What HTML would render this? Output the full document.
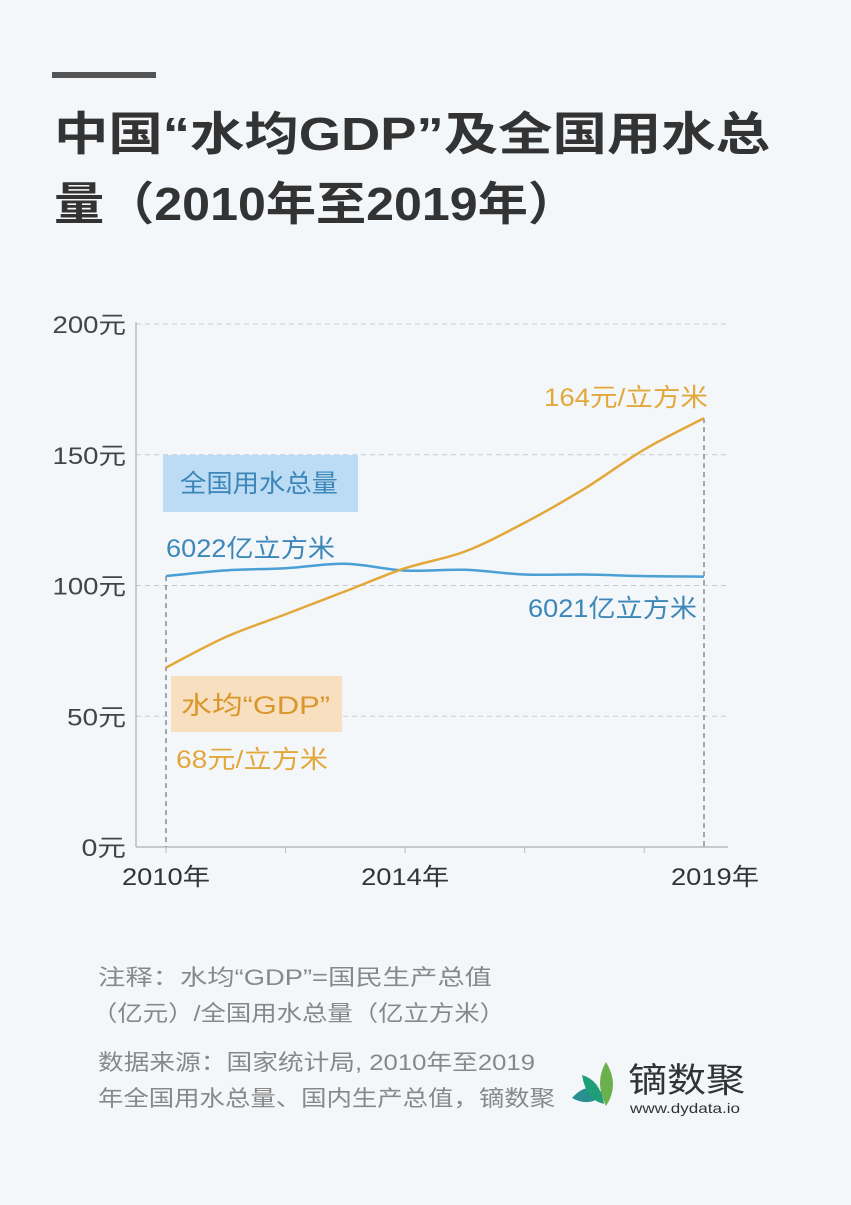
<!DOCTYPE html>
<html><head><meta charset="utf-8">
<style>
body{margin:0;background:#f4f7fa;width:851px;height:1200px;overflow:hidden;font-family:"Liberation Sans","Noto Sans CJK SC",sans-serif}
svg text{font-family:"Liberation Sans","Noto Sans CJK SC",sans-serif}
</style></head><body>
<svg width="851" height="1200">
<rect width="851" height="1200" fill="#f4f7fa"/>
<rect x="52" y="72" width="104" height="6" fill="#555"/>
<text x="54" y="150" font-size="46" font-weight="bold" fill="#333" textLength="716" lengthAdjust="spacingAndGlyphs">中国“水均GDP”及全国用水总</text>
<text x="54" y="220" font-size="46" font-weight="bold" fill="#333" textLength="524" lengthAdjust="spacingAndGlyphs">量（2010年至2019年）</text>
<g id="plot"></g>
<text x="98" y="985" font-size="22" fill="#888" textLength="394" lengthAdjust="spacingAndGlyphs">注释：水均“GDP”=国民生产总值</text>
<text x="92" y="1021" font-size="22" fill="#888" textLength="413" lengthAdjust="spacingAndGlyphs">（亿元）/全国用水总量（亿立方米）</text>
<text x="98" y="1070" font-size="22" fill="#888" textLength="437" lengthAdjust="spacingAndGlyphs">数据来源：国家统计局, 2010年至2019</text>
<text x="98" y="1106" font-size="22" fill="#888" textLength="457" lengthAdjust="spacingAndGlyphs">年全国用水总量、国内生产总值，镝数聚</text>
<g>
<path d="M572 1098 Q588 1080 604 1094 Q590 1108 572 1098Z" fill="#2a8f8f"/>
<path d="M582 1075 Q600 1080 604 1104 Q586 1100 582 1075Z" fill="#1f9e78"/>
<path d="M606 1062 Q620 1085 606 1106 Q594 1082 606 1062Z" fill="#6ab04c"/>
<text x="628" y="1092" font-size="34" fill="#333" textLength="117" lengthAdjust="spacingAndGlyphs">镝数聚</text>
<text x="630" y="1113" font-size="14" fill="#333" textLength="110" lengthAdjust="spacingAndGlyphs">www.dydata.io</text>
</g>
</svg>
<script>
const years=[2010,2011,2012,2013,2014,2015,2016,2017,2018,2019];
const waterUse=[103.6,105.8,106.6,108.3,105.7,106,104.2,104.2,103.6,103.4];
const waterGdp=[68.6,80.3,89,97.8,106.6,113,124,137,152,164];
const yTicks=[0,50,100,150,200];
const xLabels=[2010,2014,2019];
const NS="http://www.w3.org/2000/svg";
const g=document.getElementById('plot');
const x=v=>166+(v-2010)*(704-166)/9;
const y=v=>847-v*(847-324)/200;
function mk(t,a,txt){const e=document.createElementNS(NS,t);for(const k in a)e.setAttribute(k,a[k]);if(txt!=null)e.textContent=txt;g.appendChild(e);return e;}
yTicks.forEach(t=>{
 if(t>0){const l=mk('line',{x1:136,x2:728,y1:y(t),y2:y(t),stroke:'#c8ccd2','stroke-dasharray':'5 4'});
 
 }
 const s=t+'元';
 const tx=mk('text',{x:126,y:y(t)+9,'font-size':24,fill:'#444','text-anchor':'end',textLength:(s.length-1)*14.5+30,lengthAdjust:'spacingAndGlyphs'},s);
 
 
});
const ya=mk('line',{x1:136,x2:136,y1:322,y2:847,stroke:'#bbb','stroke-width':1.5});


const xa=mk('line',{x1:136,x2:728,y1:847,y2:847,stroke:'#bbb','stroke-width':1.5});


[2010,2012,2014,2016,2018].forEach(v=>{const t=mk('line',{x1:x(v),x2:x(v),y1:847,y2:853,stroke:'#bbb'});
 
 });
xLabels.forEach(v=>{const t=mk('text',{x:x(v)+(v==2019?11:0),y:885,'font-size':24,fill:'#333','text-anchor':'middle',textLength:88,lengthAdjust:'spacingAndGlyphs'},v+'年');
 
 });
[[2010,waterUse[0]],[2019,waterGdp[9]]].forEach(p=>{const l=mk('line',{x1:x(p[0]),x2:x(p[0]),y1:y(p[1]),y2:847,stroke:'#555','stroke-dasharray':'5 4'});
 
 });
function path(arr){const P=arr.map((v,i)=>[x(years[i]),y(v)]);let d='M'+P[0];
 for(let i=0;i<P.length-1;i++){const p0=P[i-1]||P[i],p1=P[i],p2=P[i+1],p3=P[i+2]||p2;
 d+=' C'+(p1[0]+(p2[0]-p0[0])/6)+','+(p1[1]+(p2[1]-p0[1])/6)+' '+(p2[0]-(p3[0]-p1[0])/6)+','+(p2[1]-(p3[1]-p1[1])/6)+' '+p2;}return d;}
const lb=mk('path',{d:path(waterUse),fill:'none',stroke:'#4a9fd4','stroke-width':2.5});


const lo=mk('path',{d:path(waterGdp),fill:'none',stroke:'#e3a83a','stroke-width':2.5});


const r1=mk('rect',{x:163,y:455,width:195,height:57,fill:'#bcdcf5'});


const t1=mk('text',{x:180,y:492,'font-size':25,fill:'#3d86b8',textLength:158,lengthAdjust:'spacingAndGlyphs'},'全国用水总量');


const r2=mk('rect',{x:171,y:676,width:171,height:56,fill:'#f7dfc0'});


const t2=mk('text',{x:181,y:714,'font-size':25,fill:'#d9962a',textLength:149,lengthAdjust:'spacingAndGlyphs'},'水均“GDP”');


[[166,557,'6022亿立方米','#3d86b8',169,'label-water-2010'],[528,617,'6021亿立方米','#3d86b8',169,'label-water-2019'],
 [544,406,'164元/立方米','#e3a83a',164,'label-gdp-2019'],[176,768,'68元/立方米','#e3a83a',152,'label-gdp-2010']].forEach(a=>{
 const t=mk('text',{x:a[0],y:a[1],'font-size':25,fill:a[3],textLength:a[4],lengthAdjust:'spacingAndGlyphs'},a[2]);
 
 });
</script>
</body></html>
